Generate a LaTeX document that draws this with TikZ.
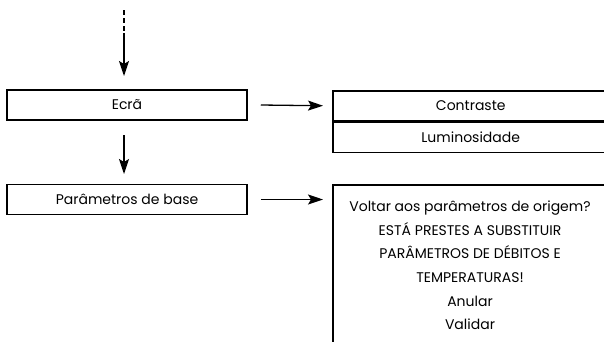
\documentclass[tikz,border=0pt]{standalone}
\usepackage{fontspec}
\setmainfont{Poppins}
\usetikzlibrary{arrows.meta}
\tikzset{
	menubox/.style={draw,line width=1.5pt,minimum width=240pt,minimum height=30pt,inner sep=0pt},
	subbox/.style={draw,line width=1.5pt,minimum width=276pt,minimum height=30pt,inner sep=0pt,anchor=north west}
}
\begin{document}
\begin{tikzpicture}[x=1pt,y=-1pt,>={Stealth[length=15pt,width=10pt,inset=3pt]},line width=1.3pt,font=\fontsize{14}{16}\selectfont]
				\clip (0,0) rectangle (604,341);
				\node[menubox] (ecra) at (127,105) {Ecrã};
				\node[menubox] (param) at (127,199.5) {Parâmetros de base};
				\node[subbox] (contraste) at (332,90) {Contraste};
				\node[subbox] (lumin) at (contraste.south west) {Luminosidade};
				\node[subbox,minimum height=180pt] (voltar) at (332,184) {};
				\node[anchor=north,align=center,font=\fontsize{14}{23.6}\selectfont] (aviso) at (470,197) {Voltar aos parâmetros de origem?\\ESTÁ PRESTES A SUBSTITUIR\\PARÂMETROS DE DÉBITOS E\\TEMPERATURAS!\\Anular\\Validar};
				\coordinate (topo) at (124,10);
				\coordinate (topo2) at (124,33);
				\draw[dash pattern=on 5pt off 3pt] (topo) -- (topo2);
				\draw[->] (topo2) -- (124,76);
				\draw[->] (124,135) -- (124,174);
				\draw[->] ([xshift=13pt]ecra.east) -- ([xshift=-9pt]contraste.west);
				\draw[->] ([xshift=13pt]param.east) -- ([xshift=-9pt]param.east -| voltar.west);
			\end{tikzpicture}
\end{document}
